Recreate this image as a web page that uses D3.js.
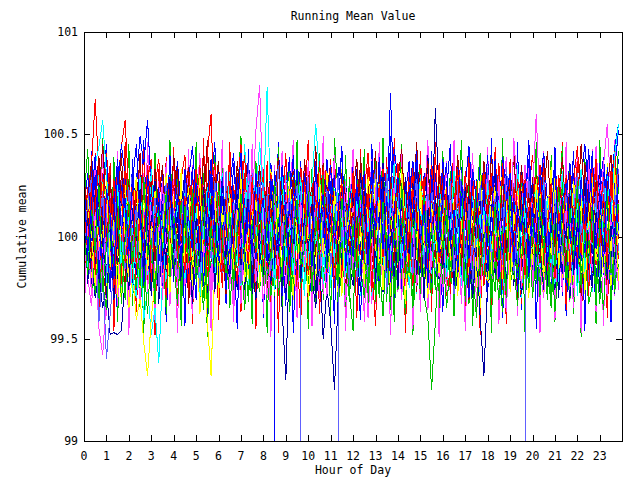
<!DOCTYPE html>
<html><head><meta charset="utf-8">
<script src="https://cdn.jsdelivr.net/npm/d3@7"></script>
<style>
body{margin:0;background:#fff}
text{font-family:"DejaVu Sans Mono","Liberation Mono",monospace;font-size:11.5px;fill:#000}
</style>
</head><body>
<svg id="chart" width="640" height="480"></svg>
<script>
// Chart text
const title = "Running Mean Value";
const xTitle = "Hour of Day";
const yTitle = "Cumulative mean";
const xTicks = [0,1,2,3,4,5,6,7,8,9,10,11,12,13,14,15,16,17,18,19,20,21,22,23];
const yTicks = [99, 99.5, 100, 100.5, 101];
const sampleMinutes = 10; // one reading every 10 minutes
const baseValue = 100;    // series below are deviations from 100, in hundredths (null = no reading)

// wider-swinging runs (drawn first)
const w0=[30,-18,42,8,-35,22,45,-25,-5,-40,18,33,-12,38,-30,12,47,-8,-28,35,-15,26,-42,10,
-22,36,15,-44,28,-6,-31,40,5,-38,24,46,-10,20,-33,38,-2,-45,27,-16,43,-29,9,35,
-40,14,31,-20,46,-4,-34,22,-47,11,37,-24,5,-38,30,-12,44,-26,18,-43,34,-1,24,-32,
39,-11,-41,25,-21,45,7,-30,36,-17,49,-38,12,28,-44,20,-7,41,-35,31,-14,42,-25,3,
-37,21,45,-10,-28,34,-46,13,28,-20,40,-5,-32,48,-14,23,-40,8,37,-23,46,-36,16,-9,
27,-45,19,38,-16,-31,44,-6,31,-39,12,42,-27,22,-46,33,-2,-37,47,-19,29,-42,17,38];
const w1=[-32,20,-10,41,-39,26,-5,36,-46,15,-24,46,-16,31,-37,7,43,-27,12,-48,33,-12,39,-21,
44,-34,17,-6,38,-43,23,-15,48,-30,6,35,-41,20,-9,46,-25,13,-37,30,-2,42,-45,22,
-14,37,-33,27,-47,10,41,-21,32,-7,-42,18,47,-28,25,-38,4,36,-19,45,-31,16,-41,29,
8,-40,43,-23,34,-12,-44,21,-1,39,-32,48,-17,28,-47,12,36,-26,42,-8,23,-37,46,-15,
32,-29,9,46,-20,30,-41,40,-11,20,-48,33,2,-35,44,-22,16,-43,38,-6,26,-33,12,47,
-25,41,-38,18,-12,37,-31,7,46,-36,22,-16,40,-46,14,31,-21,43,-9,34,-40,21,-3,30];
const w2=[17,43,-12,33,-29,48,4,-23,39,-42,27,-7,45,-34,22,10,-47,32,-18,41,-6,29,-38,47,
-11,35,-44,24,7,-31,46,-20,31,-49,13,40,-26,42,-14,28,-40,19,49,-30,8,-43,37,-4,
32,-47,22,-16,44,-36,12,38,-23,47,-10,26,-45,33,-5,41,-31,16,-39,48,20,-17,40,-27,
-46,30,-8,43,-37,18,37,-13,48,-32,25,-42,14,45,-21,31,-48,9,35,-27,46,-12,23,-41,
42,-17,32,-39,11,47,-25,28,-44,18,41,-9,30,-47,36,-19,48,-33,6,42,-28,22,-47,34,
-7,46,-35,27,-22,40,-42,16,44,-13,32,-38,24,-49,38,-2,29,-43,47,-15,36,-31,20,42];
const w3=[-43,13,-29,37,-17,44,-39,23,-7,42,-32,18,-48,30,-11,39,-25,46,-4,-41,27,-20,37,-34,
18,-47,32,-13,43,-37,9,41,-27,22,-46,33,-8,47,-22,26,-42,16,38,-32,-2,45,-18,31,
-38,24,-49,35,-12,42,-26,17,47,-40,29,-5,37,-44,21,-16,49,-29,10,40,-35,25,-46,12,
43,-22,28,-42,8,38,-33,46,-14,32,-48,19,-27,41,-9,36,-45,23,-37,15,47,-24,30,-49,
7,37,-31,47,-19,27,-46,12,41,-36,22,-10,44,-30,33,-43,18,39,-15,48,-39,27,-7,36,
-28,20,-47,42,-5,32,-41,25,-17,46,-32,11,39,-47,28,-12,43,-37,16,-44,34,-22,47,-26];

// Series values (deviation from 100 in 0.01 units), one array per run
const s00=[8,22,35,67,30,12,41,18,-5,26,44,57,20,3,-14,9,31,15,-6,24,38,11,-19,4,
17,-9,28,40,6,-22,13,33,2,-11,19,36,7,-25,14,29,-3,21,45,16,-8,10,27,-15,
5,30,-12,18,39,8,-20,11,24,-2,34,15,-7,26,9,-18,20,37,3,-10,16,28,-4,12,
31,6,-16,22,41,14,-9,25,2,-21,18,35,10,-6,28,13,-24,7,33,19,-11,23,4,-14,
26,9,-19,15,38,21,-3,12,30,-8,17,2,-26,11,36,24,-5,19,8,-13,29,16,-1,22,
40,13,-7,25,6,-17,32,18,-10,21,3,27,44,15,-4,9,-20,30,12,35,-6,19,26,8];
const s01=[-12,4,-20,9,-31,-6,15,-18,2,-27,-9,11,-3,-22,7,-35,-14,5,-25,-1,13,-16,-30,-8,
6,-19,-4,17,-26,-11,3,-33,-7,10,-21,0,-15,8,-28,-2,14,-17,-9,-36,4,-12,19,-24,
-6,12,-29,-13,1,-20,9,-8,-31,5,-16,16,-23,-4,11,-27,-10,2,-19,7,-34,-14,6,-22,
10,-11,-25,3,-18,8,-32,-5,13,-21,-1,-28,15,-13,-38,4,-7,-20,11,-29,-40,-75,-42,-3,
-12,5,-27,-8,9,-19,-2,-33,3,-14,12,-24,-6,-30,7,-17,-37,1,-21,10,-9,-26,-4,14,
-18,-1,-29,6,-13,-35,2,-22,9,-10,-31,-5,12,-26,-15,4,-20,-7,-33,8,-12,-24,3,-16];
const s02=[20,-5,33,14,-12,26,39,8,-15,22,45,30,10,-18,27,49,35,57,24,2,-9,31,16,-20,
13,37,5,-14,28,44,19,-7,25,9,-24,17,34,6,-11,23,41,12,-3,29,15,-19,8,32,
21,-2,36,10,-3000,null,-16,14,40,3,-8,24,11,-21,30,18,-4,38,7,-13,26,42,1,19,
-10,33,16,-6,28,9,-22,13,35,20,-1,43,27,5,-17,22,37,10,-9,31,14,-25,18,6,
38,12,-11,29,4,-20,25,44,16,-3,21,34,2,-15,27,11,39,23,-7,18,-18,30,13,47,
9,-12,26,41,17,-4,32,6,-21,19,36,14,-8,28,45,22,3,-14,24,39,11,-6,33,52];
const s03=[15,-20,-34,-8,-45,-58,-30,-12,9,-26,3,18,-6,25,-15,7,31,-2,-19,12,-9,22,-28,5,
28,-11,16,-24,4,35,-7,19,-16,10,-31,2,23,-13,30,8,-21,14,-5,20,30,15,52,74,
10,18,-9,26,-14,3,21,-25,11,-3,29,-17,6,24,-10,15,-28,9,33,-4,17,-12,2,27,
-20,8,31,-6,19,-33,5,14,-18,25,0,37,-11,10,-24,20,-7,28,1,-15,34,12,-22,16,
7,-27,22,-1,30,-13,13,-19,25,4,-30,11,19,-8,36,-17,3,27,-12,18,21,-5,14,-23,
9,26,-16,33,-3,18,-21,6,29,-9,15,-26,2,23,-14,38,10,-7,31,-18,20,4,-29,13];
const s04=[-3,14,28,35,44,57,30,9,-12,18,-4,22,11,-19,-30,-8,-41,-25,-48,-35,-62,-20,5,-14,
12,-7,24,-21,3,16,-15,29,6,-10,20,-27,1,13,-18,31,-2,-13,8,25,-24,11,-6,19,
-11,27,4,-20,15,-1,30,-16,9,22,-8,-29,14,3,-22,18,36,-5,-14,23,7,-19,28,-3,
20,-12,6,-26,16,32,-4,11,-23,24,-9,3,29,-17,13,-1,21,-28,10,26,-7,17,-20,4,
-16,19,-5,30,8,-24,15,-2,27,-13,5,22,-21,12,-8,34,-15,1,23,-11,17,-30,9,25,
-6,14,-19,28,2,-14,24,-25,10,18,-3,-22,16,32,-9,6,-27,21,-1,13,29,-16,7,-10];
const s05=[25,10,38,-4,20,45,12,30,-8,16,41,3,27,-12,19,36,6,24,-3,33,15,-9,28,11,
40,18,-6,22,34,8,-14,29,14,47,2,21,37,-5,12,26,-16,31,9,43,20,-2,17,35,
4,28,-11,19,39,13,-7,24,32,1,16,-18,30,11,44,5,-9,23,36,14,-4,27,8,-13,
21,38,7,-10,25,15,42,3,18,-15,29,10,-1,34,22,-8,13,46,6,26,-12,31,17,2,
33,-6,20,12,40,-3,15,28,-17,23,9,37,19,-2,26,4,-11,32,14,41,7,-7,24,18,
-5,30,11,36,1,22,-14,17,39,8,-9,27,12,45,16,-4,25,6,34,-10,21,13,38,-1];
const s06=[10,-14,22,-5,31,-20,8,17,-27,3,-12,25,-35,-18,-41,-30,-52,-68,-40,-22,-6,14,-19,7,
20,-9,33,-16,5,24,-3,-28,12,-7,29,-21,2,16,-13,35,-4,19,27,-25,9,-11,23,-1,
-18,13,-6,30,8,-24,18,-2,-31,11,26,-15,4,-22,21,7,-10,32,-17,15,-29,5,22,-8,
28,-13,3,-26,17,9,-20,34,-5,14,-23,6,21,-10,-33,12,27,-1,-16,24,2,-28,18,-7,
11,25,-19,4,-11,30,-24,8,19,-4,-35,13,26,-14,7,33,-21,1,16,-9,28,-26,10,-3,
23,-17,6,-30,14,29,-8,20,-12,3,25,-22,9,-5,31,-27,15,-2,18,-14,36,-6,21,-11];
const s07=[20,5,-12,-30,-18,-35,-25,-48,-47,-48,-46,-20,8,30,14,-6,22,-15,9,27,-4,16,-21,3,
25,-8,13,32,-11,4,19,-23,10,-2,28,-14,6,21,-17,35,1,-9,24,-26,12,-4,30,-13,
8,-21,17,-30,12,-35,-70,-5,-15,11,26,-6,18,-19,4,29,-10,14,-24,20,2,-16,27,-3,
13,-18,31,0,-12,22,-25,7,36,-8,15,-20,28,5,-14,19,-3,33,26,-2,40,-1,63,20,
-10,16,-23,9,25,-7,12,-28,21,3,-15,30,-5,18,-19,8,27,-12,1,-24,14,32,-9,6,
22,-16,4,29,-11,17,-26,10,-3,24,-20,7,33,-8,15,-22,11,-1,26,-14,20,-6,-28,12];
const s08=[12,-10,-24,5,-42,-15,-60,-38,-15,8,24,-5,17,-19,2,28,-12,9,33,-7,18,-22,6,26,
-14,21,-3,30,11,-17,4,-26,19,-9,25,1,-21,14,-6,32,-15,7,22,-11,36,-1,-24,15,
3,-18,27,10,-8,20,-13,31,-5,16,23,-3000,null,9,29,-10,18,-25,5,13,-20,26,-2,11,
21,-6,15,-28,8,34,-12,19,-1,27,-19,6,24,-14,10,-23,17,3,-9,29,-17,12,-4,20,
-11,25,-5,16,-26,9,30,-8,21,-15,4,28,-20,13,-2,35,-13,18,-6,22,-27,7,15,-10,
26,-4,19,-18,11,31,-9,14,-24,6,25,-12,20,-1,33,-21,8,17,-14,27,2,-19,24,-7];
const s09=[-5,18,-16,9,27,-3,22,-12,14,32,-7,19,4,-20,26,11,-9,35,15,-4,24,-14,8,30,
12,-18,21,3,-10,29,6,35,-8,40,60,2,20,-5,17,-13,25,7,-16,31,10,-8,22,-2,
33,-11,16,27,-6,13,-21,24,8,-3,30,15,-12,21,2,-17,28,5,38,-9,14,-22,19,9,
-7,26,13,-15,34,1,17,-10,23,-24,11,29,-1,20,-18,31,6,-8,25,14,-13,22,-4,36,
10,-21,28,-2,18,-11,32,4,-16,25,12,-7,27,-19,9,36,-3,16,-12,23,-8,30,2,-15,
21,7,-9,34,-17,12,25,-3,18,-20,29,5,-11,24,13,-6,38,-14,19,1,27,-10,16,31];
const s10=[9,-15,4,-28,14,-6,-21,10,-2,19,-30,3,-12,22,-18,7,-25,15,-4,-33,11,-9,23,-16,
2,-24,17,-7,27,-19,8,-13,-36,5,20,-3,-27,12,-10,25,-22,1,16,-14,6,-31,13,-5,
-20,18,-1,-29,10,24,-11,3,-23,15,-8,30,-17,4,-34,9,21,-12,-2,16,-26,7,-15,28,
-9,1,-22,19,-13,26,-5,-30,11,-18,8,-3,23,-25,14,-7,-35,6,18,-11,3,-28,20,-1,
-23,10,-6,29,-16,4,-31,13,-9,24,-20,2,17,-12,-27,8,31,-4,-18,12,-8,26,-21,5,
11,-13,20,-25,3,-34,15,-7,27,-19,-2,9,-24,18,-10,-3,23,-29,6,13,-16,1,-26,17];
const s11=[14,31,-2,20,-13,9,26,-8,17,38,4,-11,23,12,-19,29,6,-4,33,15,-9,21,1,40,
-6,18,27,-15,10,34,-3,22,-12,7,30,16,-20,25,3,-8,36,11,-1,19,-17,28,8,-10,
24,2,-14,32,13,-5,21,39,-18,9,26,-7,15,-2,30,18,-22,6,35,-9,12,23,-4,17,
29,-12,8,20,-1,37,10,-16,25,5,70,12,5,-6,18,-13,27,4,-8,22,14,-19,31,7,
-14,26,11,-3,34,19,-10,16,2,28,-21,13,40,-7,21,6,-16,32,9,-2,24,-11,17,38,
3,-18,29,14,-5,22,36,-9,12,-24,19,31,5,-12,26,10,42,-3,18,33,-7,25,44,55];
const s12=[-9,14,-22,6,25,-13,2,-27,17,-5,30,-18,8,21,-11,-31,12,-3,19,-24,5,27,-14,10,
23,-7,-19,15,1,-28,13,29,-10,4,-23,18,-2,26,-16,9,-33,20,7,-12,31,-6,14,-20,
-1,24,-15,11,-26,3,28,-9,16,-21,6,32,-13,19,-4,-30,14,1,22,-17,9,-8,27,-24,
15,-3,20,-29,10,-14,25,-6,2,18,-25,12,-18,30,5,-11,21,-22,8,-2,26,-15,13,-9,
-27,17,4,-13,29,-5,11,-20,23,7,-16,1,34,-10,18,-4,28,15,-5,48,22,10,35,5,
20,60,14,12,-8,24,-15,20,31,3,-12,27,9,-6,22,30,8,44,12,35,55,20,28,16];
const s13=[5,-18,20,-9,31,-2,-24,13,-11,26,-30,-6,17,2,-15,29,-21,8,23,-4,12,-27,6,34,
-8,19,-26,1,24,-13,10,-31,16,-5,28,-19,3,21,-12,35,-1,27,8,45,-3,30,20,46,
15,73,14,15,-9,21,-18,7,30,-7,18,-23,5,26,55,31,-14,9,-25,16,-3,24,-12,11,
28,-20,14,-8,22,-29,7,19,-14,33,1,-17,25,-6,11,-24,17,-2,30,-15,8,-21,20,-5,
13,-27,23,4,-12,31,-19,9,-4,26,-30,15,2,-16,20,-7,29,-22,6,18,-10,24,-1,-26,
17,3,-18,27,-8,14,-23,10,32,-2,-14,21,-29,6,25,-11,16,1,-20,28,-5,12,-17,9];
const s14=[11,-20,7,-9,24,-15,-30,3,-12,19,-6,-25,14,-2,9,-18,28,-11,-4,16,-27,1,-13,21,
-8,6,-21,13,-33,-1,18,-14,4,26,-10,-19,8,-5,-28,15,-16,3,23,-12,-2,10,-24,5,
17,-26,-7,20,-11,2,-19,12,29,-4,-15,7,-32,-8,14,-22,9,25,-6,-17,4,19,-29,-1,
12,-9,-23,6,27,-13,-3,16,-20,1,-35,11,21,-7,-14,24,-1,-27,8,15,-10,-21,3,18,
-15,22,-5,-26,10,-2,17,-31,5,-12,20,-18,3,26,-9,-16,12,-24,-1,8,-30,14,-6,23,
-11,4,19,-20,-3,28,-16,7,-25,11,2,-13,22,-29,-5,15,-18,6,25,-8,-22,10,-4,13];
const s15=[-4,15,-22,8,-13,26,-29,3,18,-9,-32,11,21,-16,6,-25,13,30,-11,22,-3,-19,9,-28,
16,-6,28,-14,4,-24,10,-38,-10,-42,-68,-15,-12,7,24,-17,19,-8,31,-2,-21,13,-10,26,
-15,8,20,-27,2,17,-9,29,-20,12,-4,23,-31,6,15,-12,27,-22,1,19,-7,33,-18,10,
24,-11,5,-23,18,-3,30,-16,9,21,-29,3,14,-8,26,-20,11,-1,22,-26,7,16,-13,28,
-2,19,-24,10,31,-7,13,-18,4,25,-14,8,-27,20,-5,15,32,-11,6,-21,27,-9,17,-30,
12,-3,23,-19,8,34,-13,3,-25,18,-6,27,10,-22,14,-10,29,-4,-17,21,5,-24,15,1];
const s16=[-8,12,-25,5,-16,20,-30,-2,14,-21,7,-12,18,-27,3,-9,23,-18,-4,10,-33,6,-14,16,
-20,1,-11,25,-24,-6,9,-17,19,-29,-3,13,-22,4,-13,27,-8,-26,11,-5,21,-15,-31,2,
15,-10,-23,8,-1,18,-28,-12,6,-19,12,-7,4,-20,-35,-10,-50,-25,-42,-75,-30,-9,17,-14,
-24,10,-6,22,-17,3,-12,26,-27,-4,14,-20,7,-9,29,-16,-1,19,-25,5,-13,24,-7,-21,
8,-18,16,-2,-29,11,-10,20,-30,-5,-40,-68,-22,-20,-8,-12,13,-6,24,-19,3,-28,9,-4,
-15,17,-7,-26,6,-11,21,-3,-18,12,-30,1,15,-22,-5,23,-14,8,-27,-1,18,-10,4,-19];
const s17=[18,-7,29,3,-16,22,10,-21,15,-2,27,-12,6,33,-9,20,-19,4,25,-4,13,-26,8,17,
-10,24,1,-17,30,12,-6,19,-23,9,35,-3,14,-15,21,5,-11,28,-20,11,2,31,-8,16,
26,-13,7,-24,19,3,-1,22,-18,13,29,-9,4,-16,23,11,-5,-14,8,-20,-6,-3000,null,-19,
10,-22,25,6,-12,18,-27,14,-4,32,-15,9,21,-8,1,-25,16,28,-11,7,-19,24,3,-14,
20,-5,12,-28,27,5,-17,15,-9,22,0,-23,31,-12,9,-3,18,-24,13,26,-15,6,-7,29,
-2,14,-20,21,8,-11,25,-16,4,17,-26,10,30,-4,19,-13,2,23,-18,11,-8,28,-21,6];
const s18=[6,24,-11,15,35,-4,19,-17,28,8,-6,33,13,-21,22,1,-12,27,38,-2,17,-15,10,29,
-7,20,4,-18,31,14,-9,25,-3,11,36,-14,18,2,-22,27,9,-5,23,40,-10,16,-1,30,
12,-16,24,6,-8,34,17,-12,21,-25,9,28,1,19,-6,37,14,-19,26,3,-13,22,8,-4,
32,15,-9,20,-2,27,-16,11,33,-7,18,4,-20,25,13,-3,30,9,-14,21,-1,35,16,-10,
23,-5,14,29,-18,7,19,-11,26,2,-22,31,12,-4,20,-15,36,8,-9,24,3,-17,28,11,
-3,18,33,-12,9,25,-6,30,14,-19,21,5,37,-8,16,-2,26,-14,12,29,-5,19,42,7];
const s19=[-15,2,-28,-9,11,-22,-36,-5,8,-19,-2,-31,6,-14,-25,3,-11,-38,-7,10,-20,-3,-29,5,
-12,-33,-1,14,-24,-8,-18,4,-30,-13,9,-26,-4,-16,12,-35,-10,1,-23,-6,-32,7,-17,-27,
0,-21,-9,13,-29,-14,6,-37,-11,-2,-25,10,-19,-5,-31,3,-16,-28,8,-13,-22,-1,-34,-7,
-20,11,-15,-30,-4,5,-27,-12,-39,2,-18,-8,-26,9,-21,-3,-33,-14,4,-24,-10,-29,7,-17,
-6,-35,-13,1,-22,-9,-28,6,-16,-40,-3,-19,12,-25,-11,-31,-7,3,-23,-15,-34,-1,-20,8,
-30,-10,-18,5,-26,-4,-37,-14,2,-21,-12,-29,9,-17,-6,-33,-24,0,-15,-36,4,-11,-27,-8];
const s20=[22,-12,8,30,-19,15,3,-27,19,-6,25,11,-15,33,-2,18,-24,7,28,-10,14,-30,21,-4,
9,35,-8,17,-21,4,26,-14,12,-3,31,-18,6,20,-26,13,-7,29,-1,-20,16,8,-12,24,
-17,10,27,-5,19,-29,2,14,-11,33,-22,7,25,-4,-16,21,9,-27,15,30,-9,-1,18,-13,
4,26,-19,12,-7,34,-23,16,1,-14,23,-5,11,-28,20,37,-10,6,-18,27,-3,13,-25,19,
31,-6,15,-24,8,22,-12,-30,17,3,28,-16,10,-2,24,-21,14,32,-8,19,-27,5,21,-11,
16,-20,34,7,-13,25,-4,11,-29,19,2,-17,27,13,-9,23,-25,8,36,-14,18,-5,30,3];
const s21=[-18,5,-29,12,-7,-23,16,-11,3,-34,9,-2,-20,22,-15,-5,13,-27,1,-10,20,-31,6,-16,
11,-24,-3,18,-13,-38,7,-20,25,-8,-1,-28,15,-17,4,-26,19,-6,-33,8,-12,23,-22,-4,
14,-30,-9,21,-16,2,-25,10,-5,-35,17,-14,6,-21,27,-11,-3,-29,12,-19,0,24,-32,-8,
-13,16,-26,3,-40,-10,20,-7,-23,9,-15,26,-2,-31,13,-18,5,-24,-9,19,-36,-4,11,-20,
7,-27,18,-12,-1,-33,22,-6,-19,10,-28,2,15,-23,-8,28,-14,-37,4,-11,17,-25,-3,12,
-21,9,-16,-30,6,21,-12,-2,-27,14,-9,-35,18,-5,-22,8,-17,1,25,-13,-29,10,-7,-24];
const s22=[4,-16,23,-8,14,30,-22,9,-3,26,-13,18,7,-28,12,-1,21,-19,33,-6,16,2,-25,11,
-9,20,-17,28,6,-12,15,-27,3,24,-5,-21,10,31,-14,1,19,-8,-24,13,27,-10,5,-18,
22,-4,9,-26,17,34,-11,6,-19,12,28,-2,-15,20,-7,25,-23,4,16,-13,30,8,-20,1,
-6,18,-29,11,2,23,-16,27,-1,-22,14,36,5,-11,21,-25,9,17,-3,29,-14,6,-8,24,
13,-20,3,32,-9,15,-24,7,20,-4,11,-17,26,-7,1,18,-28,10,22,-12,35,-3,14,-23,
8,27,-15,4,19,-6,30,-18,13,-2,24,-10,16,33,-20,11,-4,28,21,-2,30,8,40,55];
const s23=[30,8,-10,21,39,4,-7,26,13,-14,32,16,-2,24,10,41,-5,19,27,-12,15,35,2,-8,
18,34,-3,12,28,-16,23,6,40,-9,17,29,3,-13,25,11,-6,37,14,-1,22,-18,31,9,
-4,27,15,-11,33,20,1,-17,29,8,-5,38,16,24,-10,12,36,-2,20,7,-14,31,19,-7,
25,-3,39,13,-20,22,10,34,-8,17,4,-13,28,43,9,-6,26,15,-16,21,37,2,-11,30,
12,-9,24,6,33,-15,19,27,-4,14,-21,26,8,39,17,-2,30,-12,23,11,-7,35,16,-1,
29,5,-13,20,42,10,-5,25,15,-18,31,3,22,-9,36,14,-3,27,9,-14,24,40,6,18];
const s24=[-11,19,3,-24,14,-6,27,-15,8,-30,17,1,-20,11,29,-8,22,-17,5,-26,13,-3,31,-12,
20,-5,-27,9,24,-14,2,30,-19,6,-10,25,-31,15,-2,21,-16,10,28,-22,4,-9,18,-25,
7,-13,33,-4,16,-21,11,-28,23,1,-17,26,-6,14,-24,31,-10,3,-19,22,8,-29,12,-2,
25,-16,5,-23,29,13,-7,18,-26,10,-1,21,-14,33,4,-20,16,-11,27,-4,-30,15,2,-18,
9,24,-12,17,-29,6,21,-8,14,-25,30,-3,11,-19,26,0,-15,20,-27,12,-6,23,-21,7,
-14,28,3,-20,13,-9,32,-16,6,24,-24,15,-4,19,-28,10,27,-12,2,-18,21,-7,34,-22];
const s25=[15,-23,6,-14,26,-4,-18,11,-31,3,20,-9,-26,14,-2,23,-16,8,-29,5,17,-12,-3,28,
-8,12,-24,19,-1,-33,9,-15,24,-6,16,-27,2,29,-11,-20,7,21,-14,-4,25,-28,13,-7,
-19,6,30,-12,1,-25,18,-9,-3,27,-21,11,-7,16,-30,4,22,-15,10,-23,-1,26,-13,3,
23,-10,-27,14,-5,19,-21,8,29,-17,-2,12,-25,21,4,-11,26,-19,6,-31,15,-7,20,-3,
-16,27,1,-22,11,-8,24,-14,-29,9,18,-4,-20,13,32,-10,5,-26,17,-2,-18,22,-11,8,
26,-12,-6,18,-24,3,14,-30,11,-1,21,-19,7,-8,28,-15,-25,12,-3,19,-21,5,-14,30];
const s26=[-6,17,29,-10,5,22,-19,13,-3,31,8,-16,24,-7,15,-22,2,33,-12,19,-27,10,26,-1,
14,-20,7,28,-13,20,-4,-25,16,3,-11,27,11,-18,32,-6,19,-1,-23,9,24,-14,5,30,
-9,21,-17,12,35,-4,18,-26,6,25,-12,2,29,-8,14,-21,9,23,-15,4,30,-3,17,-24,
8,-13,26,1,-20,16,33,-7,12,-28,20,5,-10,24,-2,15,-19,28,3,-14,21,10,-25,13,
19,-4,27,-17,7,31,-11,16,-23,2,25,-9,13,-26,20,6,-14,34,8,-18,4,11,-6,-3000,
null,-15,10,29,-2,-21,15,4,-9,26,-17,12,31,-5,18,-24,7,20,-11,27,1,-19,14,33];
const s27=[13,-8,26,-19,7,31,-4,18,-25,10,22,-13,3,28,-16,15,-1,35,-22,9,19,-6,-30,14,
25,-11,2,20,-26,12,33,-3,16,-20,8,-9,27,-17,11,37,-5,-23,18,4,-14,29,-8,21,
-15,10,31,-2,-21,16,6,-28,24,13,-7,28,-19,3,20,-11,34,-4,15,-25,9,26,-12,1,
30,-16,12,-6,21,-27,8,25,-10,17,-22,4,36,-1,14,-18,23,10,-8,29,-20,6,16,-13,
-3,24,-28,11,33,-9,19,-15,5,27,-4,-24,14,31,-12,8,-26,22,2,-10,28,17,-19,12,
20,-7,35,-14,4,26,-21,13,-2,30,-17,9,24,-9,16,-29,11,38,-5,21,-15,32,6,-11];
const s28=[3,-19,14,-8,25,-27,-5,11,-16,20,-33,-2,17,-12,6,-24,29,-10,-1,-28,13,-7,22,-20,
10,-4,-30,15,-13,23,-22,-8,19,-35,5,-15,26,-3,-18,12,-26,4,21,-11,-29,8,-6,16,
-24,7,-12,27,-2,-20,13,-31,1,18,-14,-6,22,-27,9,-9,30,-16,-4,11,-23,19,-1,-32,
6,-17,24,-10,-25,14,2,-21,17,-5,-36,9,-13,26,-8,-18,12,-3,-28,20,-11,4,-26,15,
-7,18,-22,1,-14,28,-32,8,-4,23,-19,-1,10,-26,16,-12,5,-30,21,-9,-17,13,-3,-25,
9,-23,19,-6,-31,11,-15,24,-2,-20,14,-11,27,-25,3,-13,17,-34,8,-4,22,-18,-10,25];
const s29=[28,-9,16,40,5,-14,23,11,-21,34,2,19,-6,27,45,8,-11,30,16,-3,24,-18,12,36,
-1,21,-16,33,9,-7,26,14,-24,18,38,3,-12,29,6,-19,22,13,41,-5,17,-10,31,7,
19,-13,28,2,-8,35,12,-20,24,9,-2,31,16,-15,37,4,21,-9,27,-4,13,44,-17,8,
-10,25,6,32,-14,18,3,39,-6,20,-22,14,29,1,-12,23,8,42,-3,16,-25,30,11,-8,
22,36,-5,13,-18,27,7,-11,33,17,-2,24,-16,10,38,5,-9,20,31,-14,15,2,26,-20,
14,-4,30,21,-13,9,35,-8,18,26,-1,12,-19,29,6,43,17,-6,23,-15,34,11,-3,28];

const allSeries = [w0,w1,w2,w3,
  s00,s01,s02,s03,s04,s05,s06,s07,s08,s09,s10,s11,s12,s13,s14,s15,s16,s17,
  s18,s19,s20,s21,s22,s23,s24,s25,s26,s27,s28,s29];
const palette = ["#ff0000","#00c000","#0000ff","#ff40ff","#00ffff","#a00000","#ffff00","#0000a0","#6060ff"];
const wideColors = ["#0000ff","#ff0000","#00c000","#ff40ff"];
const seriesColors = wideColors.concat(d3.range(30).map(k=>palette[k % palette.length]));

// Layout
const plotL = 84, plotR = 622, plotT = 32, plotB = 441;

const svg = d3.select("#chart");
const x = d3.scaleLinear().domain([0, 23.99]).range([plotL, plotR]);
const y = d3.scaleLinear().domain([99, 101]).range([plotB, plotT]);

svg.append("defs").append("clipPath").attr("id","plotclip")
  .append("rect").attr("x",plotL).attr("y",plotT).attr("width",plotR-plotL).attr("height",plotB-plotT);

// Ticks (inward, mirrored)
const tl = 6;
const tg = svg.append("g").attr("stroke","#000").attr("stroke-width",1).attr("shape-rendering","crispEdges");
xTicks.forEach(t=>{
  const px = Math.round(x(t))+0.5;
  tg.append("line").attr("x1",px).attr("x2",px).attr("y1",plotB).attr("y2",plotB-tl);
  tg.append("line").attr("x1",px).attr("x2",px).attr("y1",plotT).attr("y2",plotT+tl);
});
yTicks.forEach(t=>{
  const py = Math.round(y(t))+0.5;
  tg.append("line").attr("x1",plotL).attr("x2",plotL+tl).attr("y1",py).attr("y2",py);
  tg.append("line").attr("x1",plotR).attr("x2",plotR-tl).attr("y1",py).attr("y2",py);
});

// Lines
const line = d3.line()
  .defined(d=>d!==null)
  .x((d,i)=>x(i*sampleMinutes/60))
  .y(d=>y(baseValue + d/100));
const lg = svg.append("g").attr("clip-path","url(#plotclip)");
allSeries.forEach((s,k)=>{
  lg.append("path").datum(s)
    .attr("d", line)
    .attr("fill","none")
    .attr("stroke", seriesColors[k])
    .attr("stroke-width",1)
    .attr("shape-rendering","crispEdges");
});

// Frame
svg.append("rect").attr("x",plotL+0.5).attr("y",plotT+0.5)
  .attr("width",plotR-plotL).attr("height",plotB-plotT)
  .attr("fill","none").attr("stroke","#000").attr("stroke-width",1)
  .attr("shape-rendering","crispEdges");

// Tick labels
xTicks.forEach(t=>{
  svg.append("text").attr("x",x(t)).attr("y",plotB+19)
    .attr("text-anchor","middle").text(String(t));
});
yTicks.forEach(t=>{
  svg.append("text").attr("x",plotL-6).attr("y",y(t)+4)
    .attr("text-anchor","end").text(String(t));
});

// Titles
svg.append("text").attr("x",(plotL+plotR)/2).attr("y",20).attr("text-anchor","middle").text(title);
svg.append("text").attr("x",(plotL+plotR)/2).attr("y",474).attr("text-anchor","middle").text(xTitle);
svg.append("text").attr("transform","translate(26,"+((plotT+plotB)/2)+") rotate(-90)")
  .attr("text-anchor","middle").text(yTitle);
</script>
</body></html>
